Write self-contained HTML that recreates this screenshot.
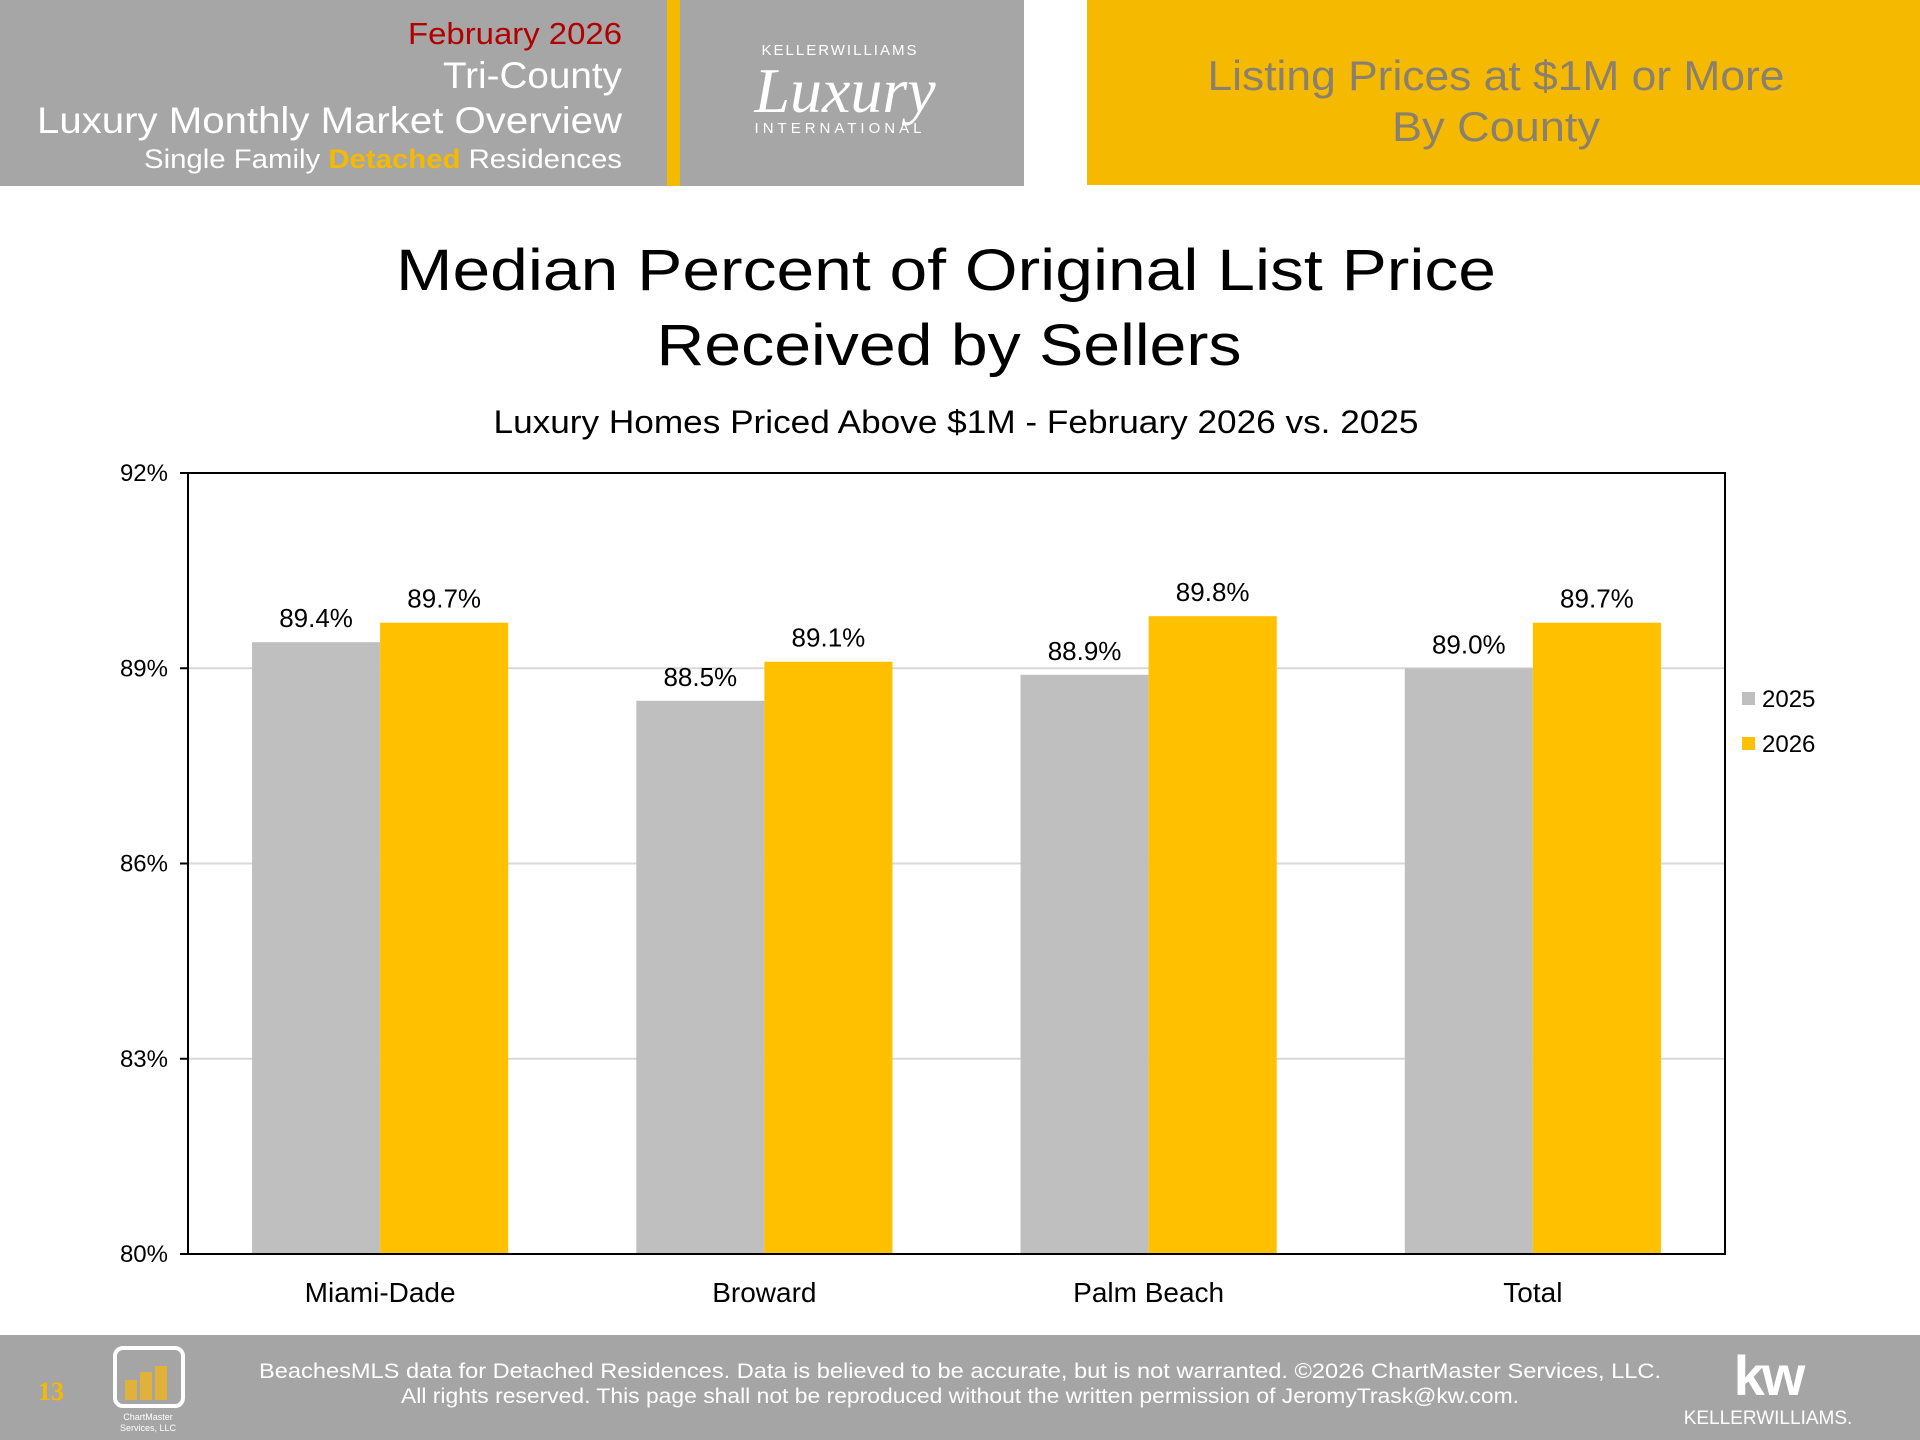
<!DOCTYPE html>
<html><head><meta charset="utf-8"><style>
body{margin:0;width:1920px;height:1440px;overflow:hidden;background:#fff;font-family:"Liberation Sans","DejaVu Sans",sans-serif;}
svg{display:block}
</style></head><body>
<svg id="chart" width="1920" height="1440" viewBox="0 0 1920 1440">
  <rect x="0" y="0" width="1024" height="186" fill="#a6a6a6"/>
  <rect x="667" y="0" width="13" height="186" fill="#f5ba00"/>
  <text x="622" y="44" text-anchor="end" font-size="31" fill="#b00000" textLength="214" lengthAdjust="spacingAndGlyphs">February 2026</text>
  <text x="622" y="88" text-anchor="end" font-size="37" fill="#fff" textLength="179" lengthAdjust="spacingAndGlyphs">Tri-County</text>
  <text x="622" y="133" text-anchor="end" font-size="37" fill="#fff" textLength="585" lengthAdjust="spacingAndGlyphs">Luxury Monthly Market Overview</text>
  <text x="622" y="168" text-anchor="end" font-size="27" fill="#fff" textLength="478" lengthAdjust="spacingAndGlyphs">Single Family <tspan fill="#f5ba00" font-weight="bold">Detached</tspan> Residences</text>
  <g>
    <text x="840" y="55" text-anchor="middle" font-size="15" fill="#fff" letter-spacing="2">KELLERWILLIAMS</text>
    <text x="845" y="112" text-anchor="middle" font-size="64" font-style="italic" font-family="Liberation Serif, serif" fill="#fff">Luxury</text>
    <text x="840" y="133" text-anchor="middle" font-size="15" fill="#fff" letter-spacing="4">INTERNATIONAL</text>
  </g>
  <rect x="1087" y="0" width="833" height="185" fill="#f5ba00"/>
  <text x="1496" y="90" text-anchor="middle" font-size="42" fill="#8a8070" textLength="577" lengthAdjust="spacingAndGlyphs">Listing Prices at $1M or More</text>
  <text x="1496" y="141" text-anchor="middle" font-size="42" fill="#8a8070" textLength="208" lengthAdjust="spacingAndGlyphs">By County</text>

  <text x="946" y="290" text-anchor="middle" font-size="58" fill="#000" textLength="1100" lengthAdjust="spacingAndGlyphs">Median Percent of Original List Price</text>
  <text x="949" y="365" text-anchor="middle" font-size="58" fill="#000" textLength="585" lengthAdjust="spacingAndGlyphs">Received by Sellers</text>
  <text x="956" y="433" text-anchor="middle" font-size="32" fill="#000" textLength="925" lengthAdjust="spacingAndGlyphs">Luxury Homes Priced Above $1M - February 2026 vs. 2025</text>

  <g id="plot"></g>

  <rect x="0" y="1335" width="1920" height="105" fill="#a5a5a5"/>
  <text x="51" y="1400" text-anchor="middle" font-size="26" font-weight="bold" font-family="Liberation Serif, serif" fill="#f5ba00">13</text>
  <g>
    <rect x="115" y="1348" width="68" height="58" rx="8" fill="none" stroke="#fff" stroke-width="4"/>
    <rect x="125" y="1380" width="12" height="20" fill="#e0b23a"/><rect x="140" y="1372" width="12" height="28" fill="#e0b23a"/><rect x="155" y="1366" width="12" height="34" fill="#e0b23a"/>
    <text x="148" y="1420" text-anchor="middle" font-size="9" fill="#fff">ChartMaster</text>
    <text x="148" y="1431" text-anchor="middle" font-size="9" fill="#fff">Services, LLC</text>
  </g>
  <text x="960" y="1378" text-anchor="middle" font-size="21" fill="#fff" textLength="1402" lengthAdjust="spacingAndGlyphs">BeachesMLS data for Detached Residences.  Data is believed to be accurate, but is not warranted.   ©2026  ChartMaster Services, LLC.</text>
  <text x="960" y="1403" text-anchor="middle" font-size="21" fill="#fff" textLength="1118" lengthAdjust="spacingAndGlyphs">All rights reserved. This page shall not be reproduced without the written permission of JeromyTrask@kw.com.</text>
  <g>
    <text x="1768" y="1395" text-anchor="middle" font-size="56" fill="#fff" font-weight="bold" letter-spacing="-3">kw</text>
    <text x="1768" y="1424" text-anchor="middle" font-size="19" fill="#fff">KELLERWILLIAMS.</text>
  </g>
</svg>
<script>
const categories = ["Miami-Dade","Broward","Palm Beach","Total"];
const values2025 = [89.4, 88.5, 88.9, 89.0];
const values2026 = [89.7, 89.1, 89.8, 89.7];
const labels2025 = ["89.4%","88.5%","88.9%","89.0%"];
const labels2026 = ["89.7%","89.1%","89.8%","89.7%"];
const tickValues = [80, 83, 86, 89, 92];
const tickLabels = ["80%","83%","86%","89%","92%"];
const seriesNames = ["2025","2026"];

const NS="http://www.w3.org/2000/svg";
const plot=document.getElementById('plot');
const X0=188, X1=1725, Y0=1254, Y1=473, YMIN=80, YMAX=92;
const y=v=>Y0-(v-YMIN)/(YMAX-YMIN)*(Y0-Y1);
const band=(X1-X0)/categories.length;
const barW=band/3;
function mk(tag,attrs){const e=document.createElementNS(NS,tag);for(const k in attrs)e.setAttribute(k,attrs[k]);plot.appendChild(e);return e;}

tickValues.forEach((t,i)=>{
  if(t>YMIN&&t<YMAX){const g=mk('line',{x1:X0,x2:X1,y1:y(t),y2:y(t),stroke:'#d9d9d9','stroke-width':2});
  
  }
  const tk=mk('line',{x1:X0-8,x2:X0,y1:y(t),y2:y(t),stroke:'#000','stroke-width':2});
  
  
  const tl=mk('text',{x:X0-20,y:y(t)+8,'text-anchor':'end','font-size':24,fill:'#000'});
  tl.textContent=tickLabels[i];
  
  
});
const colors=['#bfbfbf','#ffc000'];
[values2025,values2026].forEach((vals,s)=>{
  const labs=s?labels2026:labels2025;
  vals.forEach((v,i)=>{
    const x=X0+band*i+band/6+barW*s;
    const r=mk('rect',{x:x,y:y(v),width:barW,height:Y0-y(v),fill:colors[s]});
    
    
    const t=mk('text',{x:x+barW/2,y:y(v)-15,'text-anchor':'middle','font-size':26,fill:'#000'});
    t.textContent=labs[i];
    
    
  });
});
const frame=mk('rect',{x:X0,y:Y1,width:X1-X0,height:Y0-Y1,fill:'none',stroke:'#000','stroke-width':2});


categories.forEach((c,i)=>{
  const t=mk('text',{x:X0+band*(i+0.5),y:1302,'text-anchor':'middle','font-size':28,fill:'#000'});
  t.textContent=c;
  
  
});
seriesNames.forEach((n,s)=>{
  const sq=mk('rect',{x:1742,y:692+s*45,width:13,height:13,fill:colors[s]});
  
  
  const t=mk('text',{x:1762,y:707+s*45,'font-size':24,fill:'#000'});
  t.textContent=n;
  
  
});
</script>
</body></html>
